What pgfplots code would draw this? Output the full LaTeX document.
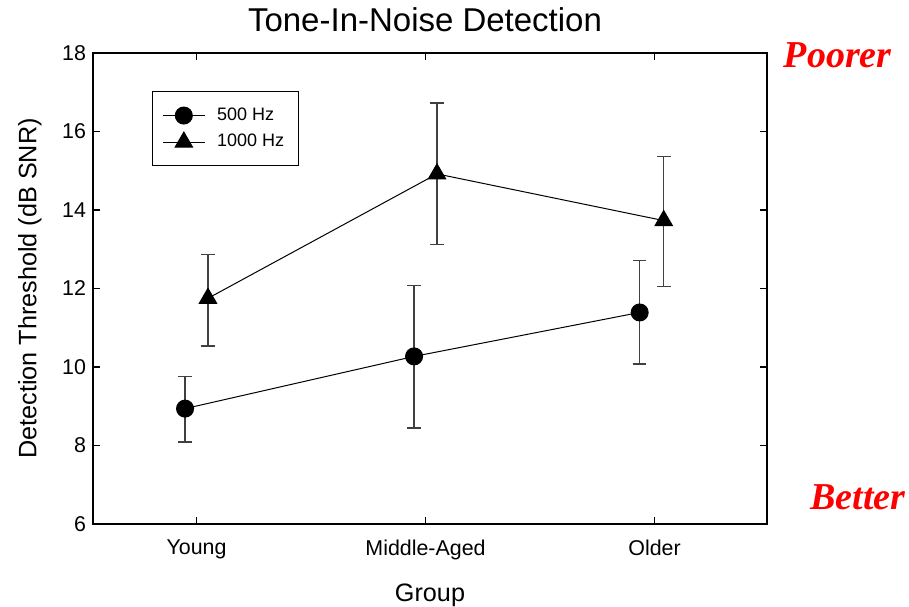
\documentclass[border=0pt]{standalone}
\usepackage{fontspec}
\setmainfont{Liberation Sans}
\newfontfamily\tnr{Liberation Serif}
\usepackage{pgfplots}
\usepackage{pgfplotstable}
\pgfplotsset{compat=1.18}
\definecolor{errgray}{HTML}{404040}
\pgfplotstableread{
x y ep em
0.95 8.94 0.82 0.85
1.95 10.27 1.81 1.82
2.935 11.39 1.32 1.31
}\fivehundred
\pgfplotstableread{
x y ep em
1.05 11.75 1.12 1.22
2.05 14.92 1.81 1.80
3.04 13.73 1.63 1.68
}\thousand
\begin{document}
\begin{tikzpicture}
\useasboundingbox (-46.5pt,-41pt) rectangle (408pt,262pt);
\begin{axis}[
  at={(0pt,0pt)}, anchor=south west,
  width=337pt, height=235.5pt, scale only axis,
  xmin=0.548, xmax=3.491, ymin=6, ymax=18,
  xtick={1,2,3}, xticklabels={Young,Middle-Aged,Older},
  ytick={6,8,10,12,14,16,18},
  tick align=inside, major tick length=3.5pt,
  minor tick num=0,
  axis line style={line width=0.75pt},
  tick style={line width=0.7pt, black},
  /pgf/number format/assume math mode=true,
  ticklabel style={font=\fontsize{10.7}{12}\selectfont},
  xticklabel style={yshift=-4.5pt},
  title={Tone-In-Noise Detection},
  title style={font=\fontsize{16.5}{18}\selectfont, at={(axis description cs:0.4926,1.045)}, anchor=center},
  xlabel={Group},
  ylabel={Detection Threshold (dB SNR)},
  label style={font=\fontsize{12.6}{14}\selectfont},
  xlabel style={at={(axis description cs:0.5,-0.152)}, anchor=center},
  ylabel style={at={(axis description cs:-0.0935,0.5)}, anchor=center},
  legend style={at={(rel axis cs:0.0875,0.919)}, anchor=north west,
    draw=black, line width=0.6pt, font=\fontsize{9}{10}\selectfont,
    inner xsep=5pt, inner ysep=6pt, row sep=1.5pt, column sep=4pt},
  legend cell align=left,
  legend image code/.code={\draw[#1,mark repeat=2,mark phase=2] plot coordinates {(0cm,0cm)(0.365cm,0cm)(0.73cm,0cm)};},
  error bars/error bar style={errgray, line width=0.75pt},
  error bars/error mark options={errgray, line width=0.75pt, mark size=3.4pt, rotate=90},
  clip=false,
]
\addplot[black, line width=0.5pt, mark=*, mark size=4.25pt, mark options={solid, fill=black},
  error bars/.cd, y dir=both, y explicit]
  table[x=x, y=y, y error plus=ep, y error minus=em] {\fivehundred};
\addlegendentry{500 Hz\hspace{11pt}}
\addplot[black, line width=0.5pt, mark=triangle*, mark size=5pt, mark options={solid, fill=black},
  error bars/.cd, y dir=both, y explicit]
  table[x=x, y=y, y error plus=ep, y error minus=em] {\thousand};
\addlegendentry{1000 Hz\hspace{11pt}}
\node[text=red, font=\tnr\bfseries\itshape\fontsize{19}{21}\selectfont, anchor=center] at (rel axis cs:1.105,0.996) {Poorer};
\node[text=red, font=\tnr\bfseries\itshape\fontsize{19}{21}\selectfont, anchor=center] at (rel axis cs:1.135,0.056) {Better};
\end{axis}
\end{tikzpicture}
\end{document}
